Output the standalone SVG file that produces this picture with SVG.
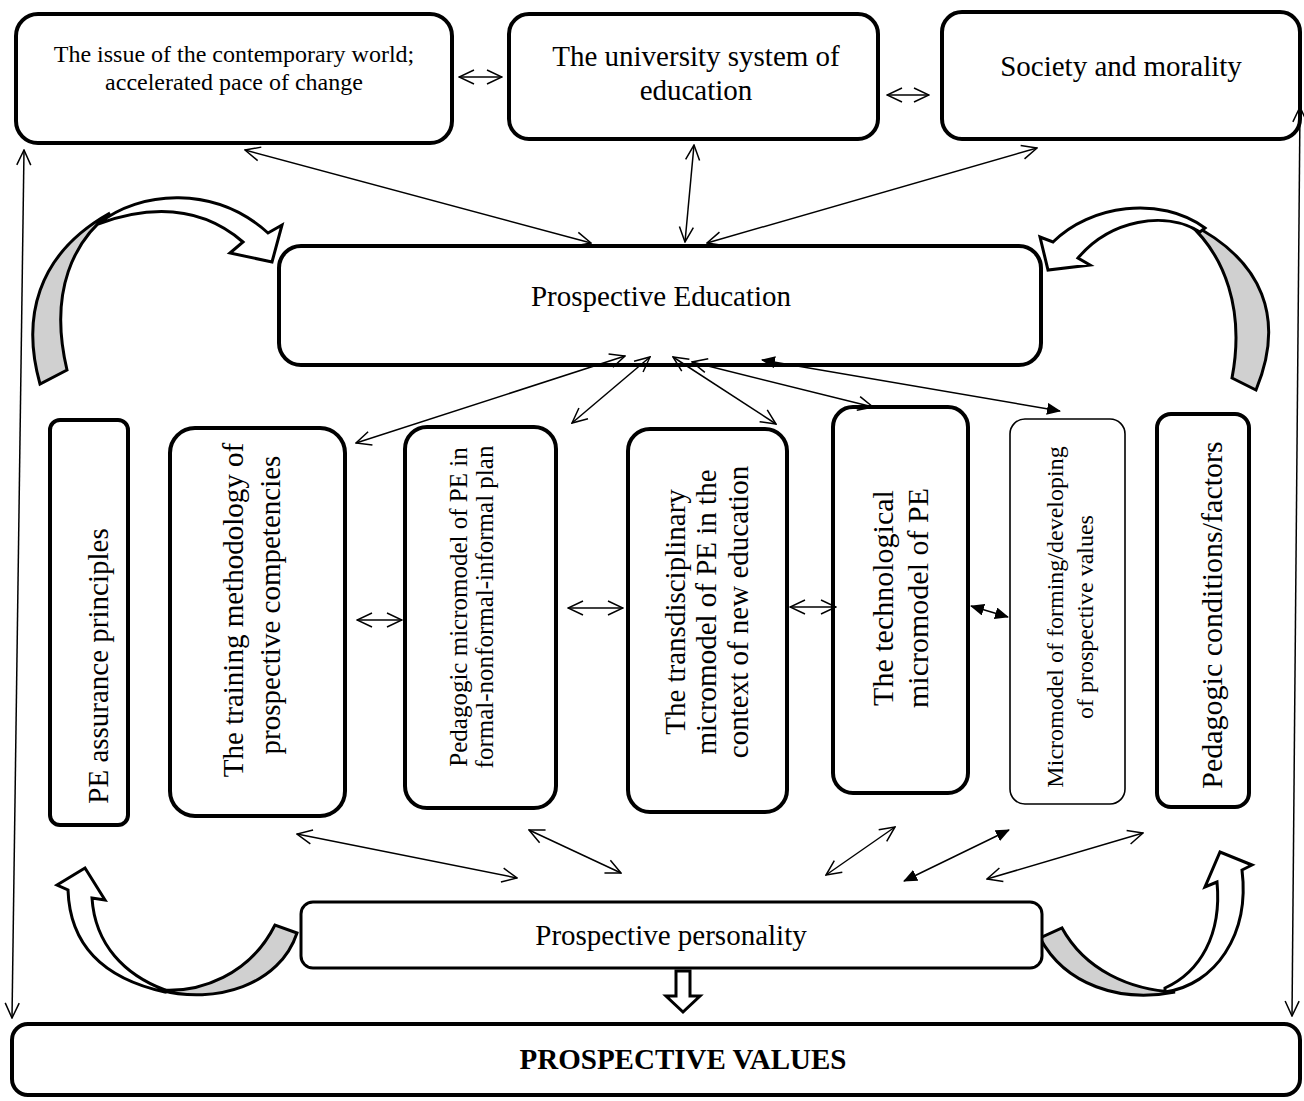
<svg xmlns="http://www.w3.org/2000/svg" width="1304" height="1101" viewBox="0 0 1304 1101">
  <style>
    .box { fill: #fff; stroke: #000; stroke-width: 4; }
    .thin { stroke-width: 1.6; }
    .mid { stroke-width: 3; }
    .t { font-family: "Liberation Serif", "Times New Roman", serif; fill: #000; }
    .c { stroke: #000; stroke-width: 1.5; fill: none; }
    .oa { marker-start: url(#open); marker-end: url(#open); }
    .fa { marker-start: url(#solid); marker-end: url(#solid); }
    .band { stroke: #000; stroke-width: 3; stroke-linejoin: miter; }
    .grey { fill: #d0d0d0; }
    .white { fill: #fff; }
  </style>
  <defs>
    <marker id="open" viewBox="0 0 18 18" refX="17" refY="9" markerWidth="18" markerHeight="18" markerUnits="userSpaceOnUse" orient="auto-start-reverse">
      <path d="M2,2 L17,9 L2,16" fill="none" stroke="#000" stroke-width="1.5"/>
    </marker>
    <marker id="solid" viewBox="0 0 14 12" refX="13" refY="6" markerWidth="14" markerHeight="12" markerUnits="userSpaceOnUse" orient="auto-start-reverse">
      <path d="M0,0 L14,6 L0,12 Z" fill="#000"/>
    </marker>
  </defs>
  <rect width="1304" height="1101" fill="#fff"/>

  <!-- curved block arrows around the central boxes -->
  <g id="curve-top-left">
    <path class="band grey" d="M40,384 C22,320 35,255 110,213 C75,240 48,290 67,370 Z"/>
    <path class="band white" d="M98,224 C140,190 215,185 268,233 L282,225 L272,262 L230,253 L243,242 C200,205 150,205 98,224 Z"/>
  </g>
  <g id="curve-top-right">
    <path class="band grey" d="M1256,390 C1285,320 1265,260 1187,222 C1225,255 1245,310 1232,378 Z"/>
    <path class="band white" d="M1205,228 C1160,195 1090,205 1053,242 L1040,237 L1048,270 L1090,265 L1078,258 C1110,220 1165,210 1200,232 Z"/>
  </g>
  <g id="curve-bottom-left">
    <path class="band grey" d="M297,933 C280,985 215,1005 160,990 C200,993 250,975 275,925 Z"/>
    <path class="band white" d="M165,992 C110,980 70,950 68,890 L57,885 L85,868 L105,900 L92,898 C95,945 125,975 165,990 Z"/>
  </g>
  <g id="curve-bottom-right">
    <path class="band grey" d="M1040,938 C1065,985 1120,1003 1175,992 C1130,990 1085,970 1062,928 Z"/>
    <path class="band white" d="M1165,992 C1215,985 1250,935 1242,870 L1252,865 L1220,852 L1205,887 L1217,882 C1222,935 1200,972 1165,988 Z"/>
  </g>

  <!-- top row -->
  <g id="world">
    <rect class="box" x="16" y="14" width="436" height="129" rx="22"/>
    <text class="t" font-size="24" text-anchor="middle" x="234" y="62">The issue of the contemporary world;</text>
    <text class="t" font-size="24" text-anchor="middle" x="234" y="90">accelerated pace of change</text>
  </g>
  <g id="university">
    <rect class="box" x="509" y="14" width="369" height="125" rx="20"/>
    <text class="t" font-size="29" text-anchor="middle" x="696" y="66">The university system of</text>
    <text class="t" font-size="29" text-anchor="middle" x="696" y="100">education</text>
  </g>
  <g id="society">
    <rect class="box" x="942" y="12" width="358" height="127" rx="20"/>
    <text class="t" font-size="29" text-anchor="middle" x="1121" y="76">Society and morality</text>
  </g>

  <g id="prospective-education">
    <rect class="box" x="279" y="246" width="762" height="119" rx="22"/>
    <text class="t" font-size="29" text-anchor="middle" x="661" y="306">Prospective Education</text>
  </g>

  <!-- vertical column boxes -->
  <g id="assurance">
    <rect class="box" x="50" y="420" width="78" height="405" rx="10"/>
    <text class="t" font-size="29" text-anchor="middle" transform="translate(108,666) rotate(-90)">PE assurance principles</text>
  </g>
  <g id="training">
    <rect class="box" x="170" y="428" width="175" height="388" rx="25"/>
    <text class="t" font-size="29" text-anchor="middle" transform="translate(243,610) rotate(-90)">The training methodology of</text>
    <text class="t" font-size="29" text-anchor="middle" transform="translate(280,605) rotate(-90)">prospective competencies</text>
  </g>
  <g id="pedagogic-micromodel">
    <rect class="box" x="405" y="427" width="151" height="381" rx="22"/>
    <text class="t" font-size="25" text-anchor="middle" transform="translate(467,607) rotate(-90)">Pedagogic micromodel of PE in</text>
    <text class="t" font-size="25" text-anchor="middle" transform="translate(493,607) rotate(-90)">formal-nonformal-informal plan</text>
  </g>
  <g id="transdisciplinary">
    <rect class="box" x="628" y="429" width="159" height="383" rx="22"/>
    <text class="t" font-size="29" text-anchor="middle" transform="translate(685,612) rotate(-90)">The transdisciplinary</text>
    <text class="t" font-size="29" text-anchor="middle" transform="translate(716,612) rotate(-90)">micromodel of PE in the</text>
    <text class="t" font-size="29" text-anchor="middle" transform="translate(748,612) rotate(-90)">context of new education</text>
  </g>
  <g id="technological">
    <rect class="box" x="833" y="407" width="135" height="386" rx="20"/>
    <text class="t" font-size="30" text-anchor="middle" transform="translate(893,598) rotate(-90)">The technological</text>
    <text class="t" font-size="30" text-anchor="middle" transform="translate(928,598) rotate(-90)">micromodel of PE</text>
  </g>
  <g id="values-micromodel">
    <rect class="box thin" x="1010" y="419" width="115" height="385" rx="15"/>
    <text class="t" font-size="24" text-anchor="middle" transform="translate(1063,617) rotate(-90)">Micromodel of forming/developing</text>
    <text class="t" font-size="24" text-anchor="middle" transform="translate(1093,617) rotate(-90)">of prospective values</text>
  </g>
  <g id="conditions">
    <rect class="box" x="1157" y="414" width="92" height="393" rx="14"/>
    <text class="t" font-size="30" text-anchor="middle" transform="translate(1222,615) rotate(-90)">Pedagogic conditions/factors</text>
  </g>

  <g id="personality">
    <rect class="box mid" x="301" y="902" width="741" height="66" rx="12"/>
    <text class="t" font-size="29" text-anchor="middle" x="671" y="945">Prospective personality</text>
  </g>
  <g id="prospective-values">
    <rect class="box" x="12" y="1024" width="1288" height="71" rx="16"/>
    <text class="t" font-size="29" font-weight="bold" text-anchor="middle" x="683" y="1069">PROSPECTIVE VALUES</text>
  </g>

  <!-- connectors -->
  <g id="connectors">
    <line class="c oa" x1="459" y1="77" x2="502" y2="77"/>
    <line class="c oa" x1="887" y1="95" x2="929" y2="95"/>
    <line class="c oa" x1="245" y1="150" x2="591" y2="243"/>
    <line class="c oa" x1="694" y1="145" x2="685" y2="242"/>
    <line class="c oa" x1="1037" y1="148" x2="707" y2="243"/>
    <line class="c oa" x1="24" y1="150" x2="12" y2="1018"/>
    <line class="c oa" x1="1300" y1="107" x2="1292" y2="1016"/>

    <line class="c oa" x1="356" y1="443" x2="625" y2="356"/>
    <line class="c oa" x1="572" y1="423" x2="650" y2="357"/>
    <line class="c oa" x1="673" y1="357" x2="776" y2="424"/>
    <line class="c oa" x1="692" y1="362" x2="873" y2="407"/>
    <line class="c fa" x1="762" y1="360" x2="1060" y2="411"/>

    <line class="c oa" x1="357" y1="620" x2="402" y2="620"/>
    <line class="c oa" x1="568" y1="608" x2="623" y2="608"/>
    <line class="c oa" x1="790" y1="607" x2="836" y2="607"/>
    <line class="c fa" x1="971" y1="606" x2="1008" y2="617"/>

    <line class="c oa" x1="297" y1="834" x2="517" y2="878"/>
    <line class="c oa" x1="529" y1="830" x2="621" y2="873"/>
    <line class="c oa" x1="826" y1="875" x2="895" y2="827"/>
    <line class="c fa" x1="904" y1="881" x2="1009" y2="830"/>
    <line class="c oa" x1="987" y1="879" x2="1143" y2="833"/>

    <path d="M676,971 L690,971 L690,996 L700,996 L683,1012 L666,996 L676,996 Z" fill="#fff" stroke="#000" stroke-width="3" stroke-linejoin="miter"/>
  </g>
</svg>
